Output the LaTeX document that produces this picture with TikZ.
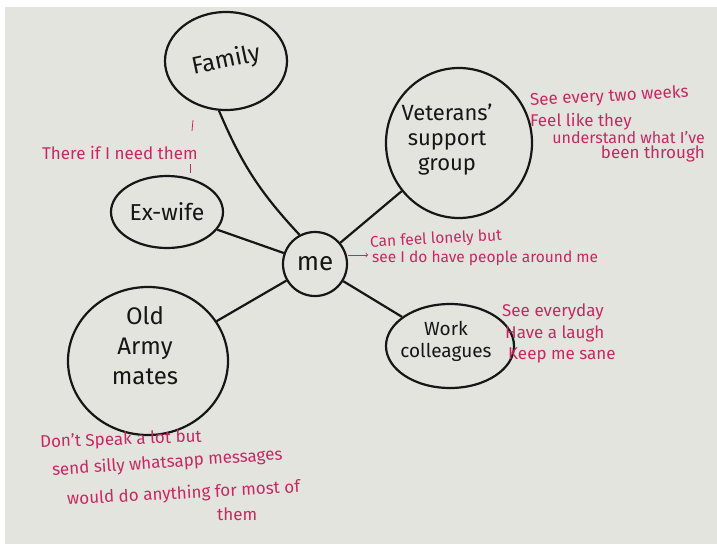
\documentclass[tikz,border=0pt]{standalone}
\usepackage{fontspec}
\setmainfont{Fira Sans}
\usepackage{tikz}
\usetikzlibrary{shapes.geometric}
\usepackage{xcolor}
\definecolor{paper}{RGB}{228,228,222}
\definecolor{ink}{RGB}{22,22,22}
\definecolor{pen}{RGB}{198,40,100}

\begin{document}
\begin{tikzpicture}[x=1pt,y=-1pt,
   blob/.style={draw=ink,line width=2.2pt,ellipse,inner sep=0pt,text=ink,align=center,font=\fontsize{22}{25}\selectfont},
   big/.style={text=ink,align=center,font=\fontsize{22}{25}\selectfont},
   note/.style={text=pen,anchor=west,inner sep=0pt,font=\fontsize{17}{18}\selectfont},
   link/.style={draw=ink,line width=2.2pt}]
   \useasboundingbox (0,0) rectangle (717,544);
   \fill[white] (0,0) rectangle (717,544);
   \fill[paper] (5,7) rectangle (717,544);
   % circles
   \node[blob,minimum width=122pt,minimum height=98pt,font=\fontsize{24}{25}\selectfont] (family) at (226,61) {\rotatebox{12}{Family}};
   \node[blob,minimum width=146pt,minimum height=150pt] (veterans) at (459,143) {};
   \node[big] (veteranstext) at (447,140) {Veterans'\\support\\group};
   \node[blob,minimum width=112pt,minimum height=72pt,font=\fontsize{23}{25}\selectfont] (exwife) at (167,212) {Ex-wife};
   \node[blob,minimum width=64pt,minimum height=64pt,font=\fontsize{26}{25}\selectfont] (me) at (315,264) {me};
   \node[blob,minimum width=160pt,minimum height=148pt] (army) at (148,361) {};
   \node[big,font=\fontsize{24}{30}\selectfont] (armytext) at (145,346) {Old\\Army\\mates};
   \node[blob,minimum width=128pt,minimum height=84pt] (work) at (450,346) {};
   \node[big,font=\fontsize{19}{22}\selectfont] (worktext) at (446,341) {Work\\colleagues};
   % links to me
   \draw[link] (family.262) to[bend right=10] (me.118);
   \draw[link] (exwife) -- (me);
   \draw[link] (veterans) -- (me);
   \draw[link] (army) -- (me);
   \draw[link] (work) -- (me);
   % notes
   \node[note] (need) at (42,153) {There if I need them};
   \draw[pen,line width=0.8pt] (193,120) -- (192,131);
   \draw[pen,line width=0.8pt] (190,164) -- (190,173);
   \node[note,rotate=3] (weeks) at (530,101) {See every two weeks};
   \node[note] (feel) at (530,122) {Feel like they};
   \node[note,anchor=east,font=\fontsize{16}{18}\selectfont] (understand) at (705,138) {understand what I've};
   \node[note,anchor=east] (through) at (705,154) {been through};
   \node[note,rotate=3,font=\fontsize{15.5}{18}\selectfont] (lonely) at (370,243) {Can feel lonely but};
   \node[note,font=\fontsize{15.5}{18}\selectfont] (around) at (372,258) {see I do have people around me};
   \draw[pen,line width=0.8pt,->] (me.east) ++(0,-9) -- ++(20,0);
   \node[note] (everyday) at (502,312) {See everyday};
   \node[note] (laugh) at (505,334) {Have a laugh};
   \node[note] (sane) at (508,355) {Keep me sane};
   \node[note,rotate=2] (speak) at (40,443) {Don't Speak a lot but};
   \node[note,rotate=4] (silly) at (52,471) {send silly whatsapp messages};
   \node[note,rotate=3] (anything) at (67,500) {would do anything for most of};
   \node[note] (them) at (217,514) {them};
\end{tikzpicture}
\end{document}
